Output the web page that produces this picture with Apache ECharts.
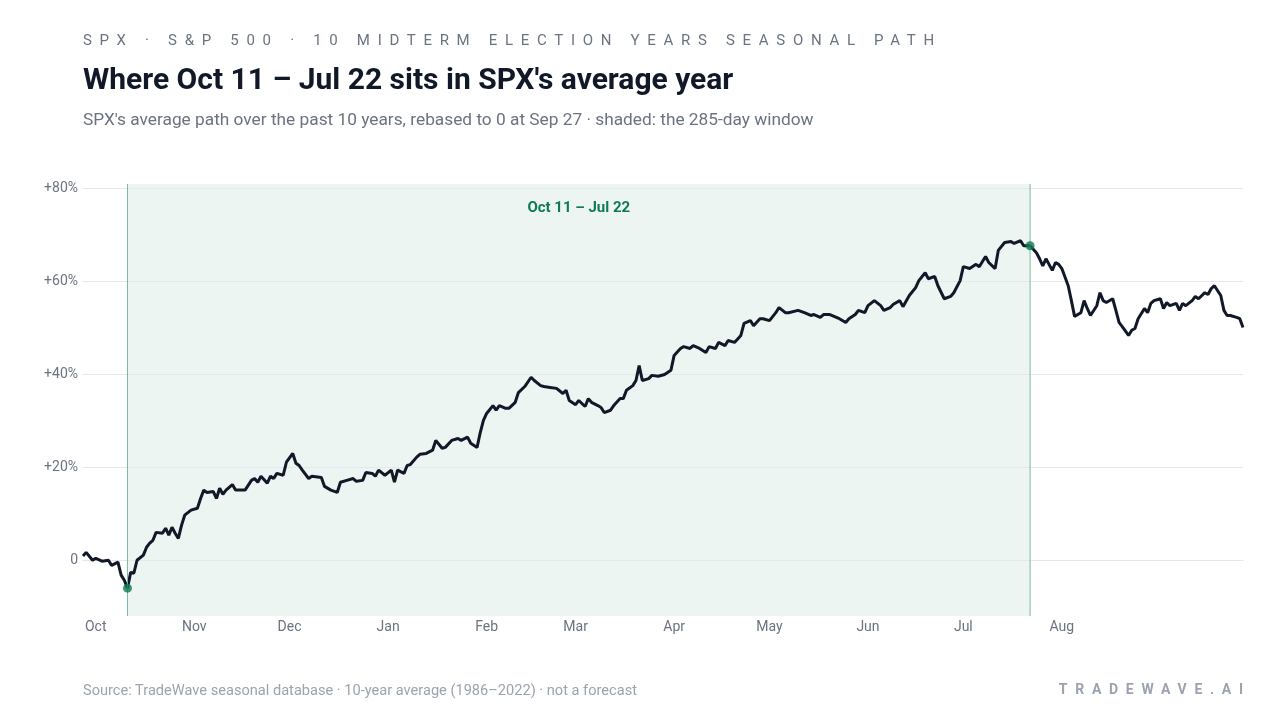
<!DOCTYPE html>
<html><head><meta charset="utf-8">
<script src="https://cdn.jsdelivr.net/npm/echarts@6/dist/echarts.min.js"></script>
<style>
body{margin:0;width:1280px;height:720px;overflow:hidden;background:#fff;font-family:Roboto,"Noto Sans",sans-serif;position:relative}
#c{position:absolute;left:0;top:0;width:1280px;height:720px}
.t{position:absolute;white-space:nowrap}
</style></head><body>
<div id="c"></div>
<div class="t" style="left:83px;top:31px;font-size:15px;letter-spacing:7.7px;color:#6b7280">SPX · S&amp;P 500 · 10 MIDTERM ELECTION YEARS SEASONAL PATH</div>
<div class="t" style="left:83px;top:61px;font-size:30px;font-weight:700;color:#111827">Where Oct 11 – Jul 22 sits in SPX's average year</div>
<div class="t" style="left:83px;top:109px;font-size:17.3px;color:#6b7280">SPX's average path over the past 10 years, rebased to 0 at Sep 27 · shaded: the 285-day window</div>
<div class="t" style="left:83px;top:681px;font-size:14.6px;color:#9ca3af">Source: TradeWave seasonal database · 10-year average (1986–2022) · not a forecast</div>
<div class="t" style="right:37px;top:681px;font-size:14px;font-weight:700;letter-spacing:7.7px;color:#9ca3af;margin-right:-7.7px">TRADEWAVE.AI</div>
<script>
const monthLabels=['Oct','Nov','Dec','Jan','Feb','Mar','Apr','May','Jun','Jul','Aug'];
const monthDays=[4,35,65,96,127,155,186,216,247,277,308];
const yTicks=[0,20,40,60,80];
const days=[0,1,3,4,6,8,9,11,12,13,14,15,16,17,19,20,21,22,23,25,26,27,28,29,30,31,32,34,36,37,38,39,41,42,43,44,45,47,48,49,51,53,54,55,56,58,59,60,61,63,64,66,67,68,69,71,72,75,76,78,80,81,83,85,86,88,89,91,92,93,95,97,98,99,101,102,103,105,106,108,110,111,113,114,116,118,119,121,122,124,125,126,127,129,130,131,133,134,136,137,139,141,142,144,145,147,149,151,152,153,155,156,158,159,160,162,163,164,166,167,169,170,171,173,174,175,176,178,179,181,183,185,186,188,189,191,192,194,196,197,199,200,202,203,205,207,208,210,211,213,214,216,218,219,221,222,225,227,229,230,232,233,235,238,240,241,243,244,246,247,249,251,252,254,255,257,258,260,262,263,265,266,268,269,271,273,274,276,277,279,281,282,284,285,287,288,290,292,293,295,296,298,300,301,302,303,305,306,307,308,310,311,312,314,315,316,317,319,320,321,322,324,325,326,327,329,330,331,332,334,335,336,337,339,340,341,342,344,345,346,347,349,350,351,353,354,355,356,358,359,360,361,363,364,365];
const values=[0.9,1.7,0,0.4,-0.2,0,-1.1,-0.4,-3.2,-4.3,-6.0,-2.6,-2.8,0,1.1,2.8,3.7,4.3,6.0,5.8,6.9,5.4,7.1,5.8,4.7,7.5,9.7,10.8,11.2,13.3,15.1,14.6,14.8,13.3,15.5,14.2,15.1,16.3,15.1,15.1,15.1,17.2,17.6,16.8,18.1,16.6,18.1,17.6,18.7,18.3,21.1,23.0,20.9,20.4,19.4,17.6,18.1,17.8,15.9,15.1,14.6,16.8,17.2,17.6,17.0,17.2,18.9,18.7,18.1,19.4,18.3,19.4,16.8,19.4,18.7,20.4,20.6,22.2,22.8,23.0,23.7,25.8,24.1,24.3,25.8,26.2,25.8,26.5,25.2,24.3,27.5,30.1,31.6,33.3,32.3,33.3,32.7,32.7,34.0,36.1,37.4,39.4,38.7,37.6,37.4,37.2,37.0,35.9,36.6,34.4,33.5,34.4,33.1,34.8,34.0,33.3,32.9,31.8,32.3,33.3,34.8,34.8,36.6,37.6,38.7,41.9,38.7,39.1,39.8,39.6,40.0,40.9,44.1,45.6,46.0,45.6,46.2,45.6,44.7,46.0,45.6,46.9,46.2,47.3,46.9,48.4,51.0,51.6,50.5,52.0,52.0,51.6,53.3,54.4,53.3,53.3,53.8,53.3,52.7,52.9,52.3,52.9,52.9,52.0,51.2,52.0,52.9,53.8,53.3,54.8,55.9,54.8,53.8,54.4,55.1,55.9,54.6,57.0,58.7,60.2,61.9,60.6,61.1,59.1,56.3,56.8,57.6,60.2,63.2,62.8,63.7,63.2,65.4,64.1,62.8,66.7,68.4,68.6,68.2,68.8,67.7,67.7,66.2,64.9,63.4,64.9,62.4,64.1,63.7,62.8,59.1,55.9,52.5,53.3,55.9,54.2,52.7,54.8,57.6,55.9,55.5,56.3,53.8,51.2,50.3,48.4,49.5,49.9,52.0,54.2,53.3,55.3,55.9,56.3,54.2,55.5,54.8,55.3,53.8,55.3,54.8,55.9,56.8,56.3,57.6,57.2,58.5,59.1,57.0,53.8,52.7,52.7,52.3,52.0,50.1];
const winStart=14, winEnd=298, winLabel='Oct 11 – Jul 22';
const pts=days.map((d,i)=>[d,values[i]]);
const valAt=d=>values[days.indexOf(d)];
const chart=echarts.init(document.getElementById('c'));
chart.setOption({
  animation:false,
  grid:{left:83,right:37,top:184,bottom:104},
  xAxis:{type:'value',min:0,max:365,
    axisLine:{show:true,lineStyle:{color:'#cbd0d6'}},axisTick:{show:false},splitLine:{show:false},
    axisLabel:{customValues:monthDays,formatter:v=>monthLabels[monthDays.indexOf(v)],color:'#6b7280',fontSize:14,fontFamily:'Roboto',margin:4}},
  yAxis:{type:'value',min:-12,max:81,axisLine:{show:false},axisTick:{show:false},splitLine:{show:false},
    axisLabel:{customValues:yTicks,formatter:v=>v===0?'0':'+'+v+'%',color:'#6b7280',fontSize:14,fontFamily:'Roboto',margin:5}},
  series:[
    {type:'line',data:pts,showSymbol:false,lineStyle:{color:'#111827',width:3},z:5,
     markLine:{silent:true,symbol:'none',label:{show:false},lineStyle:{color:'#e5e7eb',width:1,type:'solid'},data:yTicks.map(v=>({yAxis:v}))},
     markArea:{silent:true,itemStyle:{color:'rgba(15,122,85,0.08)'},
       label:{show:true,position:'insideTop',distance:17,color:'#0f7a55',fontWeight:'bold',fontSize:15,fontFamily:'Roboto'},
       data:[[{name:winLabel,xAxis:winStart,y:184},{xAxis:winEnd,y:616}]]}},
    {type:'line',data:[[winStart,-12],[winStart,81]],showSymbol:false,lineStyle:{color:'#7dbb9f',width:1},z:6,silent:true},
    {type:'line',data:[[winEnd,-12],[winEnd,81]],showSymbol:false,lineStyle:{color:'#7dbb9f',width:1},z:6,silent:true},
    {type:'scatter',data:[[winStart,valAt(winStart)],[winEnd,valAt(winEnd)]],symbolSize:9,itemStyle:{color:'#0f7a55'},z:10}
  ]
});
</script></body></html>
